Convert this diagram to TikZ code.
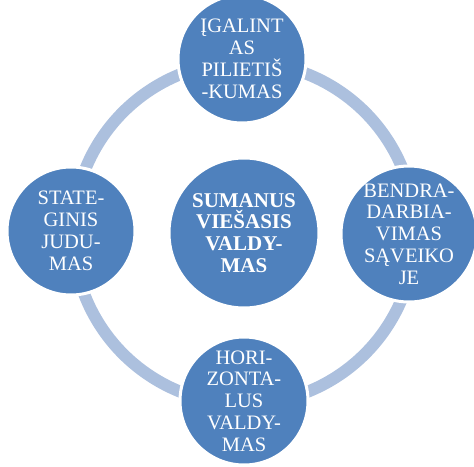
\documentclass[tikz,border=0pt]{standalone}
\usepackage{fontspec}
\setmainfont{Liberation Serif}
\definecolor{cblue}{RGB}{79,129,189}
\definecolor{ringblue}{RGB}{172,192,222}
\begin{document}
\begin{tikzpicture}[x=1pt,y=-1pt,
  outer/.style={circle,fill=cblue,draw=white,line width=3pt,minimum size=128pt,inner sep=0pt,
    text=white,align=center,font=\fontsize{20.5}{21.8}\selectfont},
  inner/.style={circle,fill=cblue,draw=white,line width=3pt,minimum size=150pt,inner sep=0pt,
    text=white,align=center,font=\fontsize{21}{21.8}\selectfont\bfseries}]
\useasboundingbox (0,0) rectangle (474,466);
\clip (0,0) rectangle (474,466);
\coordinate (c) at (244,233);
\draw[ringblue,line width=12pt] (c) circle[radius=171];
\node[outer] (top) at (242,59) {ĮGALINT\\AS\\PILIETIŠ\\-KUMAS};
\node[outer] (right) at (409,234) {BENDRA-\\DARBIA-\\VIMAS\\SĄVEIKO\\JE};
\node[outer] (bottom) at (244,401) {HORI-\\ZONTA-\\LUS\\VALDY-\\MAS};
\node[outer] (left) at (71,231) {STATE-\\GINIS\\JUDU-\\MAS};
\node[inner] (center) at (c) {SUMANUS\\VIEŠASIS\\VALDY-\\MAS};
\end{tikzpicture}
\end{document}
